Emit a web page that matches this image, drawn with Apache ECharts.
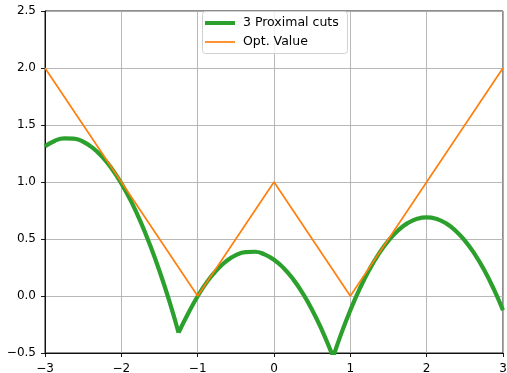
<!DOCTYPE html>
<html>
<head>
<meta charset="UTF-8">
<title>Proximal cuts</title>
<script src="https://cdn.jsdelivr.net/npm/echarts@6/dist/echarts.min.js"></script>
<style>
body { margin: 0; padding: 0; background: #fff; }
#main { width: 507px; height: 373px; }
</style>
</head>
<body>
<div id="main"></div>
<script>
// values, one array per cut (they meet at the kinks)
var cut1X = [-3, -2.875, -2.75, -2.625, -2.5, -2.375, -2.25, -2.125, -2, -1.875, -1.75, -1.625, -1.5, -1.375, -1.25];
var cut1Y = [1.312, 1.360, 1.383, 1.380, 1.353, 1.300, 1.221, 1.117, 0.988, 0.834, 0.654, 0.449, 0.219, -0.037, -0.322];
var cut2X = [-1.25, -1.125, -1, -0.875, -0.75, -0.625, -0.5, -0.375, -0.25, -0.125, 0, 0.125, 0.25, 0.375, 0.5, 0.625, 0.75, 0.775];
var cut2Y = [-0.322, -0.154, -0.002, 0.126, 0.228, 0.306, 0.358, 0.385, 0.388, 0.365, 0.318, 0.246, 0.148, 0.025, -0.122, -0.294, -0.492, -0.535];
var cut3X = [0.775, 0.875, 1, 1.125, 1.25, 1.375, 1.5, 1.625, 1.75, 1.875, 2, 2.125, 2.25, 2.375, 2.5, 2.625, 2.75, 2.875, 3];
var cut3Y = [-0.535, -0.341, -0.125, 0.066, 0.232, 0.372, 0.486, 0.575, 0.639, 0.677, 0.690, 0.677, 0.639, 0.575, 0.486, 0.372, 0.232, 0.066, -0.125];
var optX = [-3, -1, 0, 1, 3];
var optY = [2, 0, 1, 0, 2];
var seriesNames = ['3 Proximal cuts', 'Opt. Value'];

var green = '#2ca02c', orange = '#ff7f0e';
var font = 'DejaVu Sans';

function pairs(xs, ys) {
    var out = [];
    for (var i = 0; i < xs.length; i++) out.push([xs[i], ys[i]]);
    return out;
}
function minus(s) { return String(s).replace('-', '\u2212'); }

function cutSeries(xs, ys) {
    return {
        name: seriesNames[0], type: 'line', symbol: 'none', clip: true,
        smooth: 0.5,
        data: pairs(xs, ys),
        lineStyle: { color: green, width: 4.2 },
        itemStyle: { color: green }
    };
}

function legendFor(name, top, thick) {
    return {
        data: [name], orient: 'vertical', left: 205, top: top,
        icon: 'rect', itemWidth: 30, itemHeight: thick, padding: 0,
        textStyle: { fontFamily: font, fontSize: 12.5, color: '#000', lineHeight: 14, padding: [0, 0, 0, 3] }
    };
}

var chart = echarts.init(document.getElementById('main'));

var option = {
    animation: false,
    grid: {
        left: 45, right: 4, top: 11, bottom: 20,
        outerBoundsMode: 'none', containLabel: false,
        show: true, borderColor: '#000', borderWidth: 0.9, backgroundColor: 'transparent'
    },
    graphic: [{
        type: 'rect', z: 3, left: 202, top: 11,
        shape: { width: 145, height: 42, r: 3 },
        style: { fill: 'rgba(255,255,255,0.8)', stroke: '#d0d0d0', lineWidth: 1 }
    }],
    legend: [
        legendFor(seriesNames[0], 16, 4),
        legendFor(seriesNames[1], 35, 1.7)
    ],
    xAxis: {
        type: 'value', min: -3, max: 3, interval: 1,
        axisLine: { onZero: false, lineStyle: { color: '#000', width: 0.9 } },
        axisTick: { length: 4, lineStyle: { color: '#000', width: 0.9 } },
        axisLabel: { fontFamily: font, fontSize: 12, color: '#000', margin: 10,
            formatter: function (v) { return minus(v); } },
        splitLine: { lineStyle: { color: '#b0b0b0', width: 0.9 } }
    },
    yAxis: {
        type: 'value', min: -0.5, max: 2.5, interval: 0.5,
        axisLine: { onZero: false, lineStyle: { color: '#000', width: 0.9 } },
        axisTick: { length: 4, lineStyle: { color: '#000', width: 0.9 } },
        axisLabel: { fontFamily: font, fontSize: 12, color: '#000', margin: 9,
            formatter: function (v) { return minus(v.toFixed(1)); } },
        splitLine: { lineStyle: { color: '#b0b0b0', width: 0.9 } }
    },
    series: [
        cutSeries(cut1X, cut1Y),
        cutSeries(cut2X, cut2Y),
        cutSeries(cut3X, cut3Y),
        {
            name: seriesNames[1], type: 'line', symbol: 'none', clip: true,
            data: pairs(optX, optY),
            lineStyle: { color: orange, width: 1.7 },
            itemStyle: { color: orange }
        }
    ]
};
chart.setOption(option);
</script>
</body>
</html>
